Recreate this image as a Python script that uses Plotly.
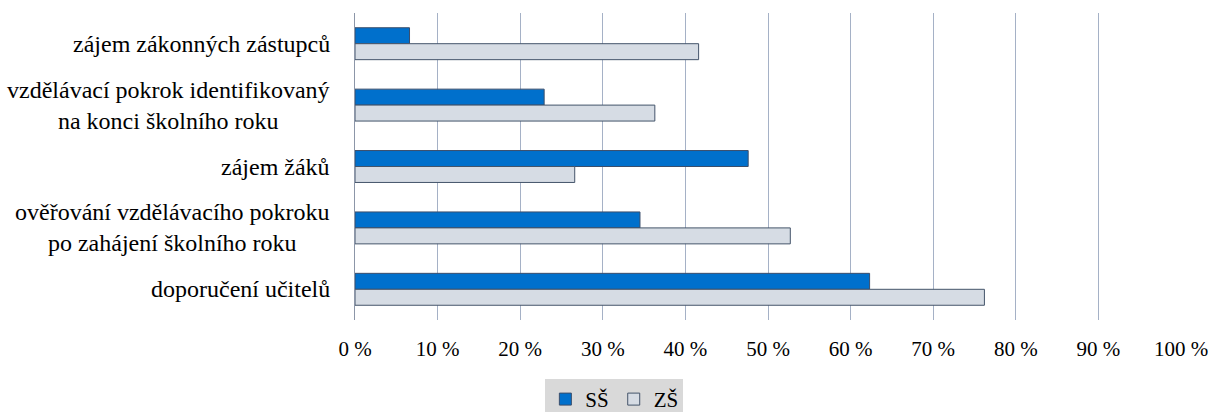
import plotly.graph_objects as go

categories = [
    "zájem zákonných zástupců",
    "vzdělávací pokrok identifikovaný<br>na konci školního roku",
    "zájem žáků",
    "ověřování vzdělávacího pokroku<br>po zahájení školního roku",
    "doporučení učitelů",
]
ss_values = [6.6, 22.9, 47.6, 34.5, 62.3]
zs_values = [41.6, 36.3, 26.6, 52.7, 76.2]
x_ticks = [0, 10, 20, 30, 40, 50, 60, 70, 80, 90, 100]
x_tick_labels = [f"{v} %" for v in x_ticks]

FONT = "Liberation Serif, Times New Roman, serif"

fig = go.Figure()
fig.add_trace(go.Bar(
    y=categories, x=ss_values, name="SŠ", orientation="h",
    marker=dict(color="#0070CC", line=dict(color="#3B4E6B", width=1)),
))
fig.add_trace(go.Bar(
    y=categories, x=zs_values, name="ZŠ", orientation="h",
    marker=dict(color="#D6DCE4", line=dict(color="#44546A", width=1)),
))

for c in categories:
    fig.add_annotation(
        x=0, xref="paper", y=c, yref="y", text=c, showarrow=False,
        xanchor="right", yanchor="middle", align="center", xshift=-23,
        font=dict(family=FONT, size=24, color="black"),
    )

fig.update_layout(
    width=1210, height=412,
    margin=dict(l=355, r=29, t=13, b=92, autoexpand=False),
    paper_bgcolor="white", plot_bgcolor="white",
    barmode="group", bargap=0.48, bargroupgap=0,
    font=dict(family=FONT, size=21, color="black"),
    showlegend=True,
    legend=dict(
        orientation="h", x=0.314, xanchor="center", y=-0.192, yanchor="top",
        bgcolor="#D9D9D9", font=dict(family=FONT, size=21, color="black"),
        itemwidth=30, tracegroupgap=0,
    ),
)
fig.update_xaxes(
    range=[0, 100], tickvals=x_ticks, ticktext=x_tick_labels,
    showgrid=True, gridcolor="#A5B1C6", gridwidth=1,
    zeroline=False, showline=False, ticks="", ticklabelstandoff=14,
    tickfont=dict(family=FONT, size=21, color="black"),
)
fig.update_yaxes(
    autorange="reversed", showticklabels=False, showgrid=False,
    showline=True, linecolor="#8C96A8", linewidth=1, ticks="",
)

fig.write_html("out.html")
